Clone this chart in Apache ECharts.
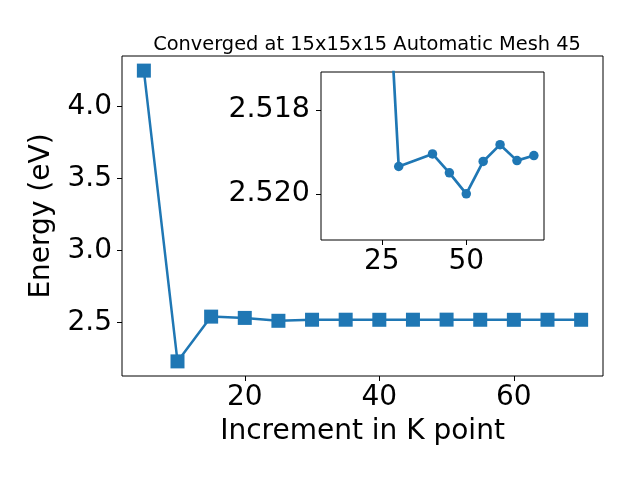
<!DOCTYPE html>
<html>
<head>
<meta charset="utf-8">
<script src="https://cdn.jsdelivr.net/npm/echarts@6/dist/echarts.min.js"></script>
<style>html,body{margin:0;padding:0;background:#fff}#c{width:640px;height:480px}</style>
</head>
<body>
<div id="c"></div>
<script>
// Main series
var kPoints = [5, 10, 15, 20, 25, 30, 35, 40, 45, 50, 55, 60, 65, 70];
var energy = [4.25, 2.23, 2.541, 2.532, 2.512, 2.5193, 2.5195, 2.5190, 2.5195, 2.5200, 2.5192, 2.5188, 2.5192, 2.5191];
// Inset series (as plotted in the inset)
var insetK = [25, 30, 40, 45, 50, 55, 60, 65, 70];
var insetEnergy = [2.512, 2.51935, 2.51905, 2.5195, 2.5200, 2.51923, 2.51883, 2.51921, 2.51909];
// Tick labels
var mainXTicks = [20, 40, 60];
var mainYTicks = [2.5, 3.0, 3.5, 4.0];
var insetXTicks = [25, 50];
var insetYTicks = [2.518, 2.520];

var FONT = 'DejaVu Sans';
var FS = 28;
var C = '#1f77b4';
var chart = echarts.init(document.getElementById('c'), null, {renderer: 'canvas'});
function axisBase() {
  return {
    axisLine: {show: false},
    splitLine: {show: false},
    axisTick: {show: true, inside: false, length: 5, lineStyle: {color: '#000', width: 1}},
    axisLabel: {color: '#000', fontFamily: FONT, fontSize: FS}
  };
}
var xMain = axisBase();
Object.assign(xMain, {type: 'value', gridIndex: 0, min: 1.75, max: 73.25,
  name: 'Increment in K point', nameLocation: 'middle', nameGap: 42,
  nameTextStyle: {color: '#000', fontFamily: FONT, fontSize: FS}});
xMain.axisTick.customValues = mainXTicks;
xMain.axisLabel.customValues = mainXTicks;
xMain.axisLabel.margin = 8;

var yMain = axisBase();
Object.assign(yMain, {type: 'value', gridIndex: 0, min: 2.1285, max: 4.3515,
  name: 'Energy (eV)', nameLocation: 'middle', nameGap: 66,
  nameTextStyle: {color: '#000', fontFamily: FONT, fontSize: FS}});
yMain.axisTick.customValues = mainYTicks;
yMain.axisLabel.customValues = mainYTicks;
yMain.axisLabel.margin = 10;
yMain.axisLabel.formatter = function (v) { return v.toFixed(1); };

var xIn = axisBase();
Object.assign(xIn, {type: 'value', gridIndex: 1, min: 7, max: 73});
xIn.axisTick.customValues = insetXTicks;
xIn.axisLabel.customValues = insetXTicks;
xIn.axisLabel.margin = 8;

var yIn = axisBase();
Object.assign(yIn, {type: 'value', gridIndex: 1, min: 2.5171, max: 2.5211, inverse: true});
yIn.axisTick.customValues = insetYTicks;
yIn.axisLabel.customValues = insetYTicks;
yIn.axisLabel.fontSize = 28.5;
yIn.axisLabel.margin = 11;
yIn.axisLabel.formatter = function (v) { return v.toFixed(3); };

chart.setOption({
  animation: false,
  backgroundColor: '#fff',
  title: {text: 'Converged at 15x15x15 Automatic Mesh 45', left: 362, top: 30, textAlign: 'center',
    textStyle: {color: '#000', fontFamily: FONT, fontSize: 19.4, fontWeight: 'normal'}},
  grid: [
    {left: 122, top: 56, width: 481, height: 320, show: true, borderColor: '#000', borderWidth: 1, backgroundColor: 'transparent'},
    {left: 321, top: 72, width: 223, height: 168, show: true, borderColor: '#000', borderWidth: 1, backgroundColor: '#fff'}
  ],
  xAxis: [xMain, xIn],
  yAxis: [yMain, yIn],
  series: [
    {type: 'line', xAxisIndex: 0, yAxisIndex: 0, data: kPoints.map(function (k, i) { return [k, energy[i]]; }),
      symbol: 'rect', symbolSize: 14, itemStyle: {color: C}, lineStyle: {color: C, width: 2.5}, clip: true, z: 2},
    {type: 'line', xAxisIndex: 1, yAxisIndex: 1, data: insetK.map(function (k, i) { return [k, insetEnergy[i]]; }),
      symbol: 'circle', symbolSize: 9.5, showSymbol: true, itemStyle: {color: C}, lineStyle: {color: C, width: 2.7}, clip: true, z: 3}
  ]
});
</script>
</body>
</html>
